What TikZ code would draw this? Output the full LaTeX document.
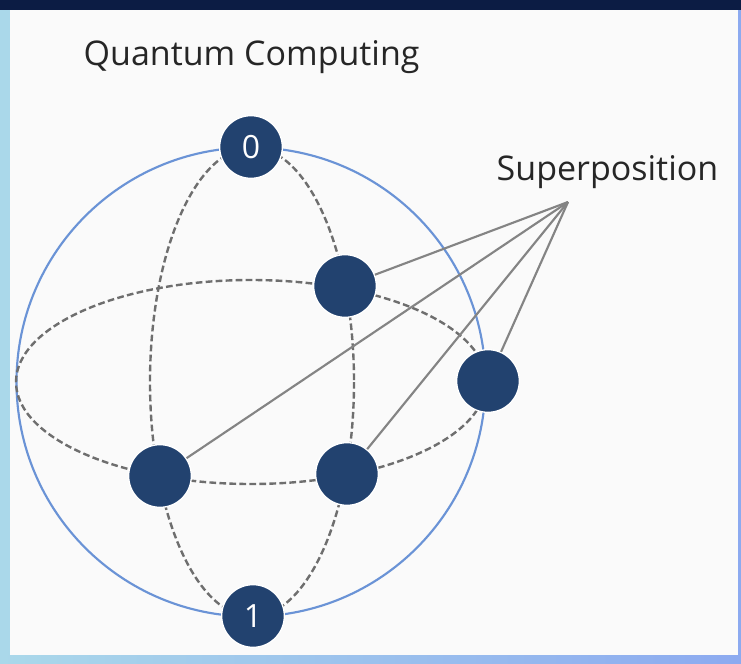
\documentclass[tikz,border=0pt]{standalone}
\usepackage{fontspec}
\setmainfont{Open Sans}
\usetikzlibrary{positioning}
\definecolor{QNavy}{RGB}{34,66,111}
\definecolor{QSphere}{RGB}{106,147,214}
\definecolor{QDash}{RGB}{110,110,110}
\definecolor{QLine}{RGB}{132,132,132}
\definecolor{QBack}{RGB}{250,250,250}
\definecolor{QTop}{RGB}{12,28,68}
\definecolor{QFrameL}{RGB}{170,216,234}
\definecolor{QFrameR}{RGB}{140,170,240}
\definecolor{QText}{RGB}{38,38,38}

\begin{document}
\begin{tikzpicture}[x=0.75pt, y=-0.75pt,
  qubit/.style={circle, fill=QNavy, draw=white, line width=1pt, minimum size=47pt, inner sep=0pt, text=white, font=\fontsize{24}{27}\selectfont},
  dashline/.style={QDash, line width=1.8pt, dash pattern=on 5pt off 2.5pt},
  label/.style={anchor=base west, text=QText, font=\fontsize{25.5}{30}\selectfont}]
\useasboundingbox (0,0) rectangle (741,663);
% frame
\fill[QBack] (0,0) rectangle (741,663);
\fill[QTop] (0,0) rectangle (741,10);
\fill[QFrameL] (0,10) rectangle (10,663);
\fill[QFrameR] (738,10) rectangle (741,663);
\shade[left color=QFrameL, right color=QFrameR] (0,655) rectangle (741,663);

% sphere
\draw[QSphere, line width=1.6pt] (251,382) circle [radius=234.5];
\draw[dashline] (251,382) ellipse [x radius=235, y radius=102];
\draw[dashline] (252,382) ellipse [x radius=102, y radius=234.5];

\node[qubit] (zero) at (251,147) {0};
\node[qubit] (one) at (253,616) {1};
\node[qubit] (sup1) at (345,286) {};
\node[qubit] (sup2) at (488,381) {};
\node[qubit] (sup3) at (160,476) {};
\node[qubit] (sup4) at (347,474) {};

\node[label] (title) at (79,66) {Quantum Computing};
\node[label] (suplabel) at (492,180) {Superposition};

\coordinate (apex) at (568,202);
\draw[QLine, line width=1.6pt] (apex) -- (sup1);
\draw[QLine, line width=1.6pt] (apex) -- (sup2);
\draw[QLine, line width=1.6pt] (apex) -- (sup3);
\draw[QLine, line width=1.6pt] (apex) -- (sup4);
\end{tikzpicture}
\end{document}
